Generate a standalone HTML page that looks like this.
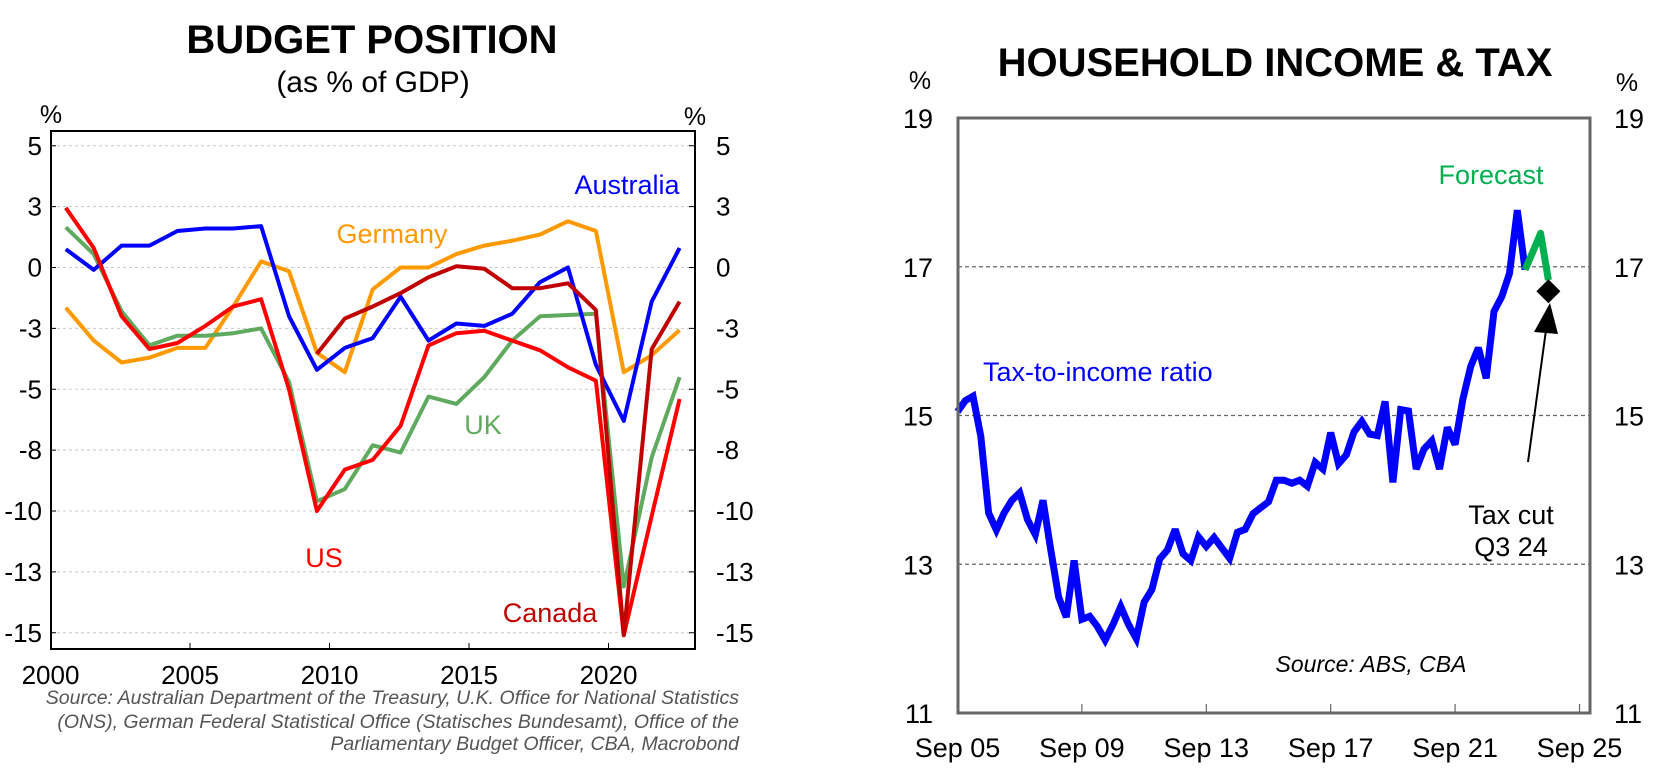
<!DOCTYPE html>
<html><head><meta charset="utf-8">
<style>
html,body{margin:0;padding:0;background:#fff;}
svg{display:block;font-family:"Liberation Sans",Arial,sans-serif;}
</style></head>
<body>
<svg id="chart" width="1665" height="779" viewBox="0 0 1665 779" xmlns="http://www.w3.org/2000/svg">
<rect width="1665" height="779" fill="#fff"/>
<g id="left">
  <text x="372" y="53" font-size="40" font-weight="bold" text-anchor="middle">BUDGET POSITION</text>
  <text x="373" y="92" font-size="30" text-anchor="middle">(as % of GDP)</text>
  <text x="51" y="123" font-size="25" text-anchor="middle">%</text>
  <text x="695" y="125" font-size="25" text-anchor="middle">%</text>
  <g id="lgrid"></g><g id="llines"></g><g id="laxes"></g>
  <text x="627" y="194" font-size="27" fill="#0000ff" text-anchor="middle">Australia</text>
  <text x="392" y="243" font-size="27" fill="#ff9900" text-anchor="middle">Germany</text>
  <text x="483" y="434" font-size="27" fill="#5faa5f" text-anchor="middle">UK</text>
  <text x="324" y="567" font-size="27" fill="#ff0000" text-anchor="middle">US</text>
  <text x="550" y="622" font-size="27" fill="#c00000" text-anchor="middle">Canada</text>
  <g font-size="19.5" font-style="italic" fill="#555" text-anchor="end">
    <text x="739" y="704">Source: Australian Department of the Treasury, U.K. Office for National Statistics</text>
    <text x="739" y="728">(ONS), German Federal Statistical Office (Statisches Bundesamt), Office of the</text>
    <text x="739" y="750">Parliamentary Budget Officer, CBA, Macrobond</text>
  </g>
</g>
<g id="right">
  <text x="1275" y="76" font-size="40" font-weight="bold" text-anchor="middle">HOUSEHOLD INCOME &amp; TAX</text>
  <text x="920" y="89" font-size="25" text-anchor="middle">%</text>
  <text x="1627" y="91" font-size="25" text-anchor="middle">%</text>
  <g id="rgrid"></g><g id="rlines"></g><g id="raxes"></g>
  <text x="983" y="381" font-size="27" fill="#0000ff">Tax-to-income ratio</text>
  <text x="1491" y="184" font-size="27" fill="#00b050" text-anchor="middle">Forecast</text>
  <text x="1511" y="524" font-size="27" text-anchor="middle">Tax cut</text>
  <text x="1511" y="556" font-size="27" text-anchor="middle">Q3 24</text>
  <text x="1371" y="672" font-size="23" font-style="italic" text-anchor="middle">Source: ABS, CBA</text>
  <line x1="1528" y1="462" x2="1546" y2="330" stroke="#000" stroke-width="2"/>
  <polygon points="1550,303 1534,332 1558,334" fill="#000"/>
</g>
</svg>
<script>
var NS='http://www.w3.org/2000/svg';
function mk(parent,tag,attrs){var e=document.createElementNS(NS,tag);for(var k in attrs)e.setAttribute(k,attrs[k]);parent.appendChild(e);return e;}

/* ---------- LEFT CHART DATA ---------- */
var leftYears=[2000.55,2001.55,2002.55,2003.55,2004.55,2005.55,2006.55,2007.55,2008.55,2009.55,2010.55,2011.55,2012.55,2013.55,2014.55,2015.55,2016.55,2017.55,2018.55,2019.55,2020.55,2021.55,2022.55];
var australia=[0.75,-0.1,0.9,0.9,1.5,1.6,1.6,1.7,-2.0,-4.2,-3.3,-2.9,-1.2,-3.0,-2.3,-2.4,-1.9,-0.6,0,-4.0,-6.3,-1.4,0.8];
var germany=[-1.65,-3.0,-3.9,-3.7,-3.3,-3.3,-1.6,0.25,-0.15,-3.5,-4.3,-0.9,0,0,0.55,0.9,1.1,1.35,1.9,1.5,-4.3,-3.6,-2.57];
var uk=[1.65,0.55,-1.8,-3.2,-2.8,-2.8,-2.7,-2.5,-4.7,-9.6,-9.1,-7.3,-7.6,-5.3,-5.6,-4.5,-3.0,-2.0,-1.95,-1.9,-13.1,-7.8,-4.5];
var us=[2.45,0.8,-2.0,-3.35,-3.1,-2.4,-1.6,-1.3,-5.0,-10,-8.3,-7.9,-6.5,-3.2,-2.7,-2.6,-3.0,-3.4,-4.1,-4.65,-15.1,-10.2,-5.4];
var canadaYears=[2009.55,2010.55,2011.55,2012.55,2013.55,2014.55,2015.55,2016.55,2017.55,2018.55,2019.55,2020.55,2021.55,2022.55];
var canada=[-3.55,-2.1,-1.6,-1.05,-0.4,0.05,-0.05,-0.85,-0.85,-0.65,-1.75,-15.1,-3.35,-1.4];
var leftTickVals=[5,2.5,0,-2.5,-5,-7.5,-10,-12.5,-15];
var leftTickLabels=['5','3','0','-3','-5','-8','-10','-13','-15'];
var leftXTicks=[2000,2005,2010,2015,2020];

var L={x0:51,x1:695,y0:131,y1:649};
function lx(yr){return 50.5+(yr-2000)*27.9;}
function ly(v){return 267.5-v*24.35;}

var lgrid=document.getElementById('lgrid'),laxes=document.getElementById('laxes'),llines=document.getElementById('llines');
leftTickVals.forEach(function(v,i){
  var g=mk(lgrid,'line',{x1:L.x0,x2:L.x1,y1:ly(v),y2:ly(v),stroke:'#c8c8c8','stroke-width':1,'stroke-dasharray':'3,3'});
  
  
  var t1=mk(laxes,'text',{x:42,y:ly(v)+9,'font-size':26,'text-anchor':'end'});t1.textContent=leftTickLabels[i];
  
  
  var t2=mk(laxes,'text',{x:716,y:ly(v)+9,'font-size':26,'text-anchor':'start'});t2.textContent=leftTickLabels[i];
  
  
  mk(laxes,'line',{x1:L.x0,x2:L.x0+5,y1:ly(v),y2:ly(v),stroke:'#000','stroke-width':1});
  mk(laxes,'line',{x1:L.x1-6,x2:L.x1,y1:ly(v),y2:ly(v),stroke:'#000','stroke-width':1});
});
leftXTicks.forEach(function(yr){
  var t=mk(laxes,'text',{x:lx(yr),y:684,'font-size':26,'text-anchor':'middle'});t.textContent=yr;
  
  
  mk(laxes,'line',{x1:lx(yr),x2:lx(yr),y1:L.y1,y2:L.y1-6,stroke:'#000','stroke-width':1});
});
var lf=mk(laxes,'rect',{x:L.x0,y:L.y0,width:L.x1-L.x0,height:L.y1-L.y0,fill:'none',stroke:'#000','stroke-width':2});



function lline(xs,vals,color,name){
  var d=vals.map(function(v,i){return (i?'L':'M')+lx(xs[i]).toFixed(1)+','+ly(v).toFixed(1);}).join('');
  var p=mk(llines,'path',{d:d,fill:'none',stroke:color,'stroke-width':4,'stroke-linejoin':'round'});
  
  
}
lline(leftYears,germany,'#ff9900','line-germany');
lline(leftYears,uk,'#5faa5f','line-uk');
lline(leftYears,australia,'#0000ff','line-australia');
lline(leftYears,us,'#ff0000','line-us');
lline(canadaYears,canada,'#c00000','line-canada');

/* ---------- RIGHT CHART DATA ---------- */
var taxRatio=[15.05,15.2,15.26,14.72,13.69,13.46,13.69,13.86,13.96,13.6,13.4,13.86,13.19,12.56,12.29,13.05,12.26,12.3,12.16,11.98,12.19,12.43,12.19,12.0,12.49,12.66,13.07,13.19,13.47,13.14,13.05,13.37,13.24,13.36,13.22,13.08,13.43,13.47,13.68,13.76,13.84,14.13,14.13,14.09,14.13,14.05,14.37,14.28,14.77,14.35,14.47,14.78,14.92,14.75,14.73,15.19,14.1,15.08,15.06,14.28,14.55,14.66,14.28,14.84,14.61,15.22,15.66,15.91,15.5,16.4,16.6,16.91,17.76,16.96];
var forecast=[16.96,17.2,17.45,16.82];
var forecastStart=73;
var taxCutQuarter=76;
var taxCutValue=16.67;
var rightTickVals=[19,17,15,13,11];
var rightXLabels=['Sep 05','Sep 09','Sep 13','Sep 17','Sep 21','Sep 25'];
var rightXQuarters=[0,16,32,48,64,80];

var R={x0:958,x1:1590,y0:118,y1:713};
function rx(q){return 957.5+q*31.1/4;}
function ry(v){return 713-(v-11)*74.375;}
var rgrid=document.getElementById('rgrid'),raxes=document.getElementById('raxes'),rlines=document.getElementById('rlines');
rightTickVals.forEach(function(v){
  if(v!==19&&v!==11){
    var g=mk(rgrid,'line',{x1:R.x0,x2:R.x1,y1:ry(v),y2:ry(v),stroke:'#666','stroke-width':1.2,'stroke-dasharray':'4,3'});
    
    
  }
  var t1=mk(raxes,'text',{x:933,y:ry(v)+10,'font-size':27,'text-anchor':'end'});t1.textContent=v;
  
  
  var t2=mk(raxes,'text',{x:1614,y:ry(v)+10,'font-size':27,'text-anchor':'start'});t2.textContent=v;
  
  
});
rightXQuarters.forEach(function(q,i){
  var t=mk(raxes,'text',{x:rx(q),y:757,'font-size':27,'text-anchor':'middle'});t.textContent=rightXLabels[i];
  
  
  if(i>0)mk(raxes,'line',{x1:rx(q),x2:rx(q),y1:R.y1,y2:R.y1-9,stroke:'#666','stroke-width':1.2});
});
var rf=mk(raxes,'rect',{x:R.x0,y:R.y0,width:R.x1-R.x0,height:R.y1-R.y0,fill:'none',stroke:'#666','stroke-width':3});



var d1=taxRatio.map(function(v,i){return (i?'L':'M')+rx(i).toFixed(1)+','+ry(v).toFixed(1);}).join('');
var p1=mk(rlines,'path',{d:d1,fill:'none',stroke:'#0000ff','stroke-width':7,'stroke-linejoin':'miter','stroke-miterlimit':3});


var d2=forecast.map(function(v,i){return (i?'L':'M')+rx(forecastStart+i).toFixed(1)+','+ry(v).toFixed(1);}).join('');
var p2=mk(rlines,'path',{d:d2,fill:'none',stroke:'#00b050','stroke-width':7,'stroke-linejoin':'round'});


var cx=rx(taxCutQuarter),cy=ry(taxCutValue);
var dm=mk(rlines,'polygon',{points:(cx-12)+','+cy+' '+cx+','+(cy-12)+' '+(cx+12)+','+cy+' '+cx+','+(cy+12),fill:'#000'});


</script>
</body></html>
